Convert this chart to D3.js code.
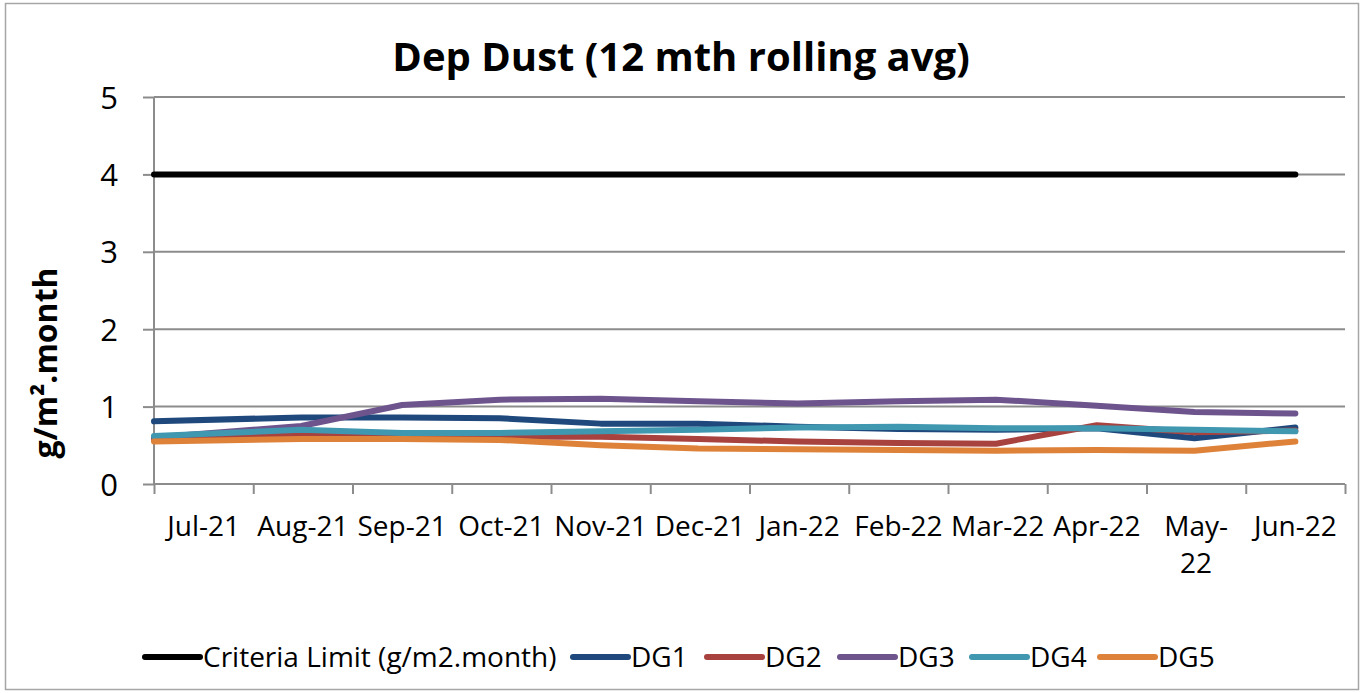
<!DOCTYPE html>
<html>
<head>
<meta charset="utf-8">
<script src="https://cdn.jsdelivr.net/npm/d3@7"></script>
<style>
  body { margin: 0; background: #fff; }
  svg text { font-family: "Open Sans", Lato, sans-serif; fill: #000; }
</style>
</head>
<body>
<div id="chart"></div>
<script>
// data
var monthLabels = ["Jul-21", "Aug-21", "Sep-21", "Oct-21", "Nov-21", "Dec-21",
  "Jan-22", "Feb-22", "Mar-22", "Apr-22", "May-22", "Jun-22"];
var sampleDates = ["2021-07-01", "2021-08-16", "2021-09-16", "2021-10-16", "2021-11-16", "2021-12-16",
  "2022-01-16", "2022-02-15", "2022-03-16", "2022-04-16", "2022-05-16", "2022-06-16"];
var criteriaLimit = [4, 4, 4, 4, 4, 4, 4, 4, 4, 4, 4, 4];
var dg1 = [0.81, 0.86, 0.86, 0.85, 0.78, 0.78, 0.74, 0.71, 0.70, 0.72, 0.59, 0.73];
var dg2 = [0.57, 0.65, 0.62, 0.61, 0.61, 0.58, 0.55, 0.53, 0.52, 0.76, 0.67, 0.69];
var dg3 = [0.60, 0.75, 1.02, 1.09, 1.10, 1.07, 1.04, 1.07, 1.09, 1.01, 0.93, 0.91];
var dg4 = [0.62, 0.70, 0.66, 0.66, 0.68, 0.70, 0.73, 0.74, 0.72, 0.72, 0.70, 0.68];
var dg5 = [0.55, 0.58, 0.58, 0.57, 0.50, 0.46, 0.45, 0.44, 0.43, 0.44, 0.43, 0.55];
var yTicks = [0, 1, 2, 3, 4, 5];

var series = [
  {name: "Criteria Limit (g/m2.month)", values: criteriaLimit, color: "#000000"},
  {name: "DG1", values: dg1, color: "#1f497d"},
  {name: "DG2", values: dg2, color: "#a8423f"},
  {name: "DG3", values: dg3, color: "#6e548d"},
  {name: "DG4", values: dg4, color: "#4097b0"},
  {name: "DG5", values: dg5, color: "#de823a"}
];

var svgWidth = 1365;
var svgHeight = 693;
var margin = {top: 97, right: 20, bottom: 209, left: 154};
var width = 1345 - margin.left;
var height = 484 - margin.top;

var svg = d3.select("#chart")
  .append("svg")
  .attr("width", svgWidth)
  .attr("height", svgHeight);

// outer chart border
svg.append("rect")
  .attr("x", 5.5).attr("y", 3.5)
  .attr("width", 1353).attr("height", 686)
  .attr("fill", "#fff")
  .attr("stroke", "#a6a6a6")
  .attr("stroke-width", 1.5);

svg.append("text")
  .attr("x", 681)
  .attr("y", 71)
  .attr("text-anchor", "middle")
  .style("font-size", "40px")
  .style("font-weight", "bold")
  .text("Dep Dust (12 mth rolling avg)");

var chartGroup = svg.append("g")
  .attr("transform", `translate(${margin.left}, ${margin.top})`);

// date -> position in months from start of Jul-21
var parseDate = d3.timeParse("%Y-%m-%d");
var start = parseDate(sampleDates[0]);
function monthPos(d) {
  var m0 = d3.timeMonth.floor(d);
  var days = d3.timeDay.count(m0, d3.timeMonth.offset(m0, 1));
  return d3.timeMonth.count(start, m0) + (d.getDate() - 1) / days;
}
var xPos = sampleDates.map(s => monthPos(parseDate(s)));

var xScale = d3.scaleLinear()
  .domain([0, monthLabels.length])
  .range([0, width]);

var yScale = d3.scaleLinear()
  .domain([0, 5])
  .range([height, 0]);

// gridlines
chartGroup.append("g")
  .selectAll("line")
  .data(yTicks.filter(t => t > 0))
  .enter()
  .append("line")
  .attr("x1", 0).attr("x2", width)
  .attr("y1", d => yScale(d)).attr("y2", d => yScale(d))
  .attr("stroke", "#8c8c8c")
  .attr("stroke-width", 2);

// y axis
var leftAxis = d3.axisLeft(yScale)
  .tickValues(yTicks)
  .tickSize(11)
  .tickPadding(25)
  .tickFormat(d3.format("d"));
var yAxisG = chartGroup.append("g").call(leftAxis);
yAxisG.select(".domain").attr("stroke", "#8c8c8c").attr("stroke-width", 2).attr("d", `M0,0V${height}`);
yAxisG.selectAll(".tick line").attr("stroke", "#8c8c8c").attr("stroke-width", 2);
yAxisG.selectAll(".tick text")
  .style("font-size", "31px")
  .attr("dy", "0.36em");

// x axis: ticks on month boundaries, labels centred in each month
var bottomAxis = d3.axisBottom(xScale)
  .tickValues(d3.range(monthLabels.length + 1))
  .tickSize(10)
  .tickFormat("");
var xAxisG = chartGroup.append("g")
  .attr("transform", `translate(0, ${height})`)
  .call(bottomAxis);
xAxisG.select(".domain").attr("stroke", "#8c8c8c").attr("stroke-width", 2).attr("d", `M0,0H${width}`);
xAxisG.selectAll(".tick line").attr("stroke", "#8c8c8c").attr("stroke-width", 2);

var wrapLabels = ["May-22"];
var xLabels = chartGroup.append("g")
  .selectAll("text")
  .data(monthLabels)
  .enter()
  .append("text")
  .attr("x", (d, i) => xScale(i + 0.5))
  .attr("y", height + 52)
  .attr("text-anchor", "middle")
  .style("font-size", "28px");
xLabels.each(function(d, i) {
  var t = d3.select(this);
  if (wrapLabels.indexOf(d) >= 0) {
    var parts = d.split("-");
    t.append("tspan").attr("x", xScale(i + 0.5)).text(parts[0] + "-");
    t.append("tspan").attr("x", xScale(i + 0.5)).attr("dy", 37).text(parts[1]);
  } else {
    t.text(d);
  }
});

// y axis title
svg.append("text")
  .attr("transform", "translate(57, 363) rotate(-90)")
  .attr("text-anchor", "middle")
  .style("font-size", "32px")
  .style("font-weight", "bold")
  .text("g/m\u00b2.month");

// lines
var line = d3.line()
  .x((d, i) => xScale(xPos[i]))
  .y(d => yScale(d));

chartGroup.append("g")
  .selectAll("path")
  .data(series)
  .enter()
  .append("path")
  .attr("d", d => line(d.values))
  .attr("fill", "none")
  .attr("stroke", d => d.color)
  .attr("stroke-width", 6)
  .attr("stroke-linecap", "round")
  .attr("stroke-linejoin", "round");

// legend
var legendX = [145, 573, 707, 840, 972, 1100];
var legend = svg.append("g")
  .selectAll("g")
  .data(series)
  .enter()
  .append("g")
  .attr("transform", (d, i) => `translate(${legendX[i]}, 657)`);
legend.append("line")
  .attr("x1", 0).attr("x2", 55)
  .attr("y1", 0).attr("y2", 0)
  .attr("stroke", d => d.color)
  .attr("stroke-width", 6)
  .attr("stroke-linecap", "round");
legend.append("text")
  .attr("x", 58)
  .attr("y", 0)
  .attr("dy", "0.35em")
  .style("font-size", "28px")
  .text(d => d.name);
</script>
</body>
</html>
